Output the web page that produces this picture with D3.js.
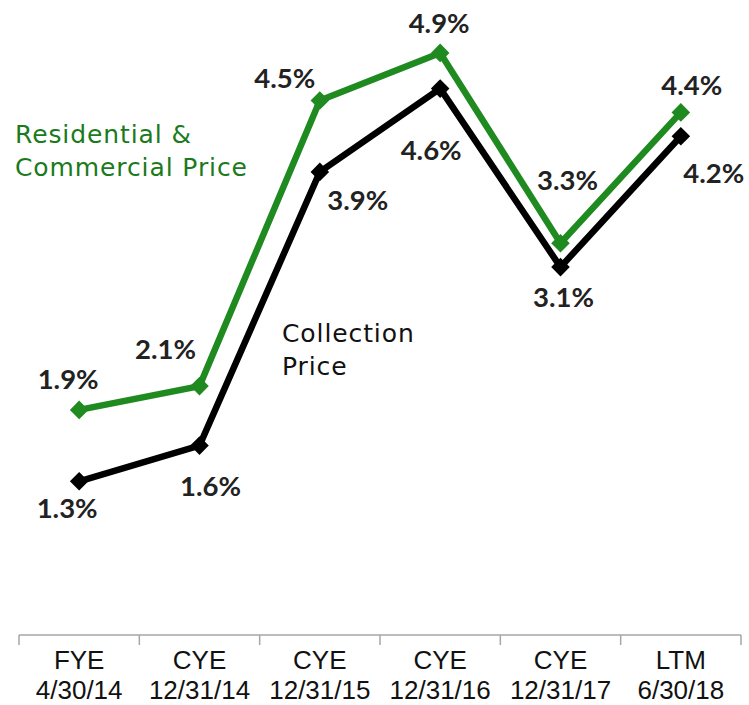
<!DOCTYPE html>
<html>
<head>
<meta charset="utf-8">
<script src="https://cdn.jsdelivr.net/npm/d3@7"></script>
<style>
  html, body { margin: 0; padding: 0; background: #fff; }
  svg { display: block; }
</style>
</head>
<body>
<svg id="chart" width="749" height="705"></svg>
<script>
// ---- data ----
const categories = ["FYE\n4/30/14", "CYE\n12/31/14", "CYE\n12/31/15", "CYE\n12/31/16", "CYE\n12/31/17", "LTM\n6/30/18"];
const residentialCommercial = [1.9, 2.1, 4.5, 4.9, 3.3, 4.4];
const collection = [1.3, 1.6, 3.9, 4.6, 3.1, 4.2];
const seriesNames = ["Residential &\nCommercial Price", "Collection\nPrice"];

// ---- layout ----
const axisY = 635;
const svg = d3.select("#chart");

const x = d3.scaleBand().domain(categories).range([19, 741]).padding(0);
const y = d3.scaleLinear().domain([0, 5]).range([636, 41]);

const green = "#1f8a1f";
const greenText = "#1b7a1b";

// label offsets (dx, dy from point)
const greenOffsets = [[-11, -21], [-34, -27], [-35, -13], [-1, -20], [7, -53], [11, -17]];
const blackOffsets = [[-12, 37], [11, 50], [38, 38], [-9, 71], [3, 40], [33, 47]];

// ---- axis ----
const axis = d3.axisBottom(x).tickSize(0).tickFormat(() => "");
const gAxis = svg.append("g").attr("transform", `translate(0,${axisY})`).call(axis);
gAxis.select(".domain").attr("stroke", "#a6a6a6").attr("stroke-width", 1.5)
  .attr("d", `M${x.range()[0]},0H${x.range()[1]}`);
const bounds = categories.map(c => x(c)).concat([x.range()[1]]);
gAxis.selectAll("line.bound").data(bounds).join("line")
  .attr("class", "bound")
  .attr("x1", d => d).attr("x2", d => d)
  .attr("y1", 0).attr("y2", 10)
  .attr("stroke", "#a6a6a6").attr("stroke-width", 1.5);

const tl = gAxis.selectAll("text.cat").data(categories).join("text")
  .attr("class", "cat")
  .attr("text-anchor", "middle")
  .attr("font-family", "'Liberation Sans', Arial, sans-serif")
  .attr("font-size", 26)
  .attr("fill", "#111");
tl.each(function(d) {
  const cx = x(d) + x.bandwidth() / 2;
  d3.select(this).selectAll("tspan").data(d.split("\n")).join("tspan")
    .attr("x", cx)
    .attr("y", (l, i) => 34 + i * 29.5)
    .text(l => l);
});

// ---- lines ----
const line = d3.line()
  .x((d, i) => x(categories[i]) + x.bandwidth() / 2)
  .y(d => y(d));

const diamond = d3.symbol().type(d3.symbolDiamond2).size(220);

function drawSeries(values, color, offsets, labelColor) {
  svg.append("path").datum(values)
    .attr("d", line)
    .attr("fill", "none")
    .attr("stroke", color)
    .attr("stroke-width", 6.5)
    .attr("stroke-linejoin", "miter");
  svg.selectAll(null).data(values).join("path")
    .attr("d", diamond)
    .attr("transform", (d, i) => `translate(${x(categories[i]) + x.bandwidth() / 2},${y(d)})`)
    .attr("fill", color);
  svg.selectAll(null).data(values).join("text")
    .attr("x", (d, i) => x(categories[i]) + x.bandwidth() / 2 + offsets[i][0])
    .attr("y", (d, i) => y(d) + offsets[i][1])
    .attr("text-anchor", "middle")
    .attr("font-family", "Lato, 'Open Sans', sans-serif")
    .attr("font-weight", "bold")
    .attr("font-size", 27.5)
    .attr("fill", labelColor)
    .text(d => d.toFixed(1) + "%");
}

drawSeries(residentialCommercial, green, greenOffsets, "#222");
drawSeries(collection, "#000", blackOffsets, "#222");

// ---- series name labels ----
function seriesLabel(text, x0, y0, color) {
  const t = svg.append("text")
    .attr("font-family", "'DejaVu Sans', Verdana, sans-serif")
    .attr("font-size", 25)
    .attr("letter-spacing", 0.9)
    .attr("fill", color);
  text.split("\n").forEach((l, i) => {
    t.append("tspan").attr("x", x0).attr("y", y0 + i * 33).text(l);
  });
}
seriesLabel(seriesNames[0], 15, 143, greenText);
seriesLabel(seriesNames[1], 282, 342, "#111");
</script>
</body>
</html>
